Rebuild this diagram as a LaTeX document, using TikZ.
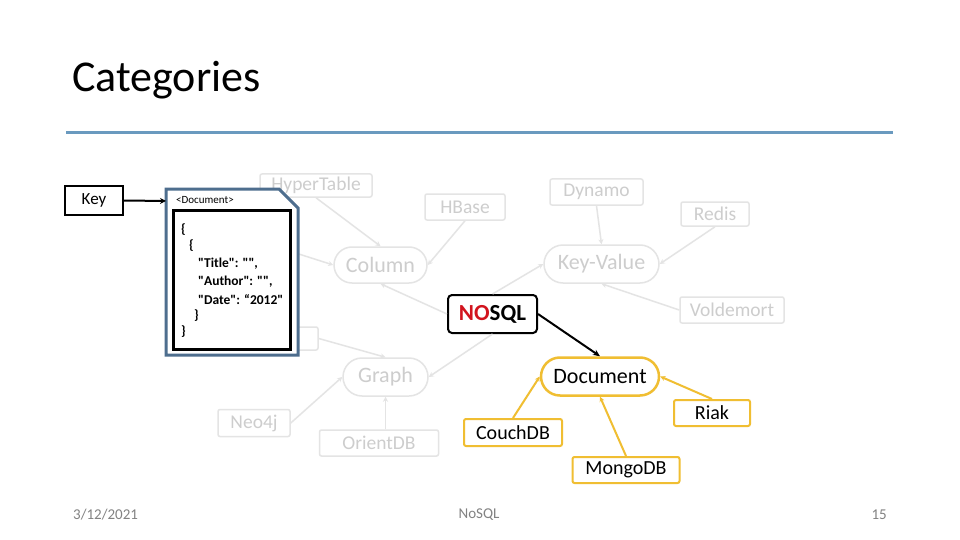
\documentclass[tikz,border=0pt]{standalone}
\usepackage{fontspec}
\setmainfont{Carlito}
\usetikzlibrary{arrows.meta,shapes.misc,calc}
\definecolor{ghost}{RGB}{228,228,228}
\definecolor{ghosttext}{RGB}{205,205,205}
\definecolor{gold}{RGB}{240,190,50}
\definecolor{rule}{RGB}{106,154,191}
\definecolor{slate}{RGB}{78,110,142}
\definecolor{nored}{RGB}{210,20,30}
\definecolor{foot}{RGB}{130,130,130}
\newcommand{\dq}{\textquotedbl}
\begin{document}
\begin{tikzpicture}[x=1pt,y=-1pt,
  gbox/.style={draw=ghost,line width=1.5pt,rounded corners=2pt,text=ghosttext,inner sep=0pt,font=\fontsize{19.5}{19.5}\selectfont},
  gpill/.style={draw=ghost,line width=1.5pt,rounded rectangle,text=ghosttext,inner sep=0pt,font=\fontsize{22}{22}\selectfont},
  ybox/.style={draw=gold,line width=2pt,rounded corners=2pt,text=black,inner sep=0pt,font=\fontsize{20}{20}\selectfont},
  ypill/.style={draw=gold,line width=2.5pt,rounded rectangle,text=black,inner sep=0pt,font=\fontsize{22}{22}\selectfont},
  garrow/.style={draw=ghost,line width=1.5pt,-{Stealth[length=5pt,width=5pt]}},
  yarrow/.style={draw=gold,line width=2pt,-{Stealth[length=5pt,width=5pt]}},
  barrow/.style={draw=black,line width=2pt,-{Stealth[length=7pt,width=6pt]}},
  json/.style={anchor=west,inner sep=0pt,font=\fontsize{13.5}{13.5}\selectfont\bfseries}
]
\useasboundingbox (0,0) rectangle (960,540);
\fill[white] (0,0) rectangle (960,540);

% title and rule
\node[anchor=west,inner sep=0pt,font=\fontsize{44}{44}\selectfont] (title) at (72,80) {Categories};
\coordinate (ruleL) at (66,133);
\coordinate (ruleR) at (893,133);
\draw[rule,line width=3pt] (ruleL) -- (ruleR);

% ghost nodes
\node[gbox,minimum width=112pt,minimum height=23pt] (ht) at (316,185.5) {HyperTable};
\node[gbox,minimum width=80pt,minimum height=26pt] (hb) at (465,207) {HBase};
\node[gbox,minimum width=93pt,minimum height=26pt] (dyn) at (596.5,192) {Dynamo};
\node[gbox,minimum width=68pt,minimum height=24pt] (redis) at (715,214) {Redis};
\node[gpill,minimum width=93pt,minimum height=36pt] (col) at (380.5,265) {Column};
\node[gpill,minimum width=115pt,minimum height=38pt] (kv) at (601.5,264) {Key-Value};
\node[gbox,minimum width=104pt,minimum height=26pt] (vold) at (732,310) {Voldemort};
\node[gbox,minimum width=68pt,minimum height=23pt] (hid) at (284,338.5) {};
\coordinate (hidc) at (280,248);
\node[gpill,minimum width=85pt,minimum height=38pt] (graph) at (385.5,377) {Graph};
\node[gbox,minimum width=72pt,minimum height=27pt] (neo) at (254,423) {Neo4j};
\node[gbox,minimum width=119pt,minimum height=26pt] (orient) at (379,443) {OrientDB};

% NOSQL
\node[draw=black,line width=2pt,rounded corners=4pt,minimum width=89pt,minimum height=38pt,inner sep=0pt,font=\fontsize{23}{23}\selectfont\bfseries] (nosql) at (492.5,314) {\textcolor{nored}{NO}SQL};

% document family
\node[ypill,minimum width=118pt,minimum height=38pt] (doc) at (600,376.5) {Document};
\node[ybox,minimum width=98pt,minimum height=27pt] (couch) at (513,432.5) {CouchDB};
\node[ybox,minimum width=76pt,minimum height=26pt] (riak) at (712,413) {Riak};
\node[ybox,minimum width=107pt,minimum height=26pt] (mongo) at (626,470) {MongoDB};

% ghost edges
\draw[garrow] (ht.south) -- (col.north);
\draw[garrow] (hb.south) -- (col.east);
\draw[garrow] (hidc) -- (col.west);
\draw[garrow] (dyn.south) -- (kv.north);
\draw[garrow] (redis.south) -- (kv.east);
\draw[garrow] (vold.west) -- (kv.south);
\draw[garrow] (nosql.north) -- (kv.west);
\draw[garrow] (nosql.west) -- (col.south);
\draw[garrow] (nosql.south) -- (graph.east);
\draw[garrow] (hid.east) -- (graph.north);
\draw[garrow] (neo.east) -- (graph.west);
\draw[garrow] (graph.south |- orient.north) -- (graph.south);

% yellow edges
\draw[yarrow] (couch.north) -- (doc.west);
\draw[yarrow] (mongo.north) -- (doc.south);
\draw[yarrow] (riak.north) -- (doc.east);
\draw[barrow] (nosql.east) -- (doc.north);

% key and document card
\node[draw=black,line width=2pt,minimum width=58pt,minimum height=29pt,inner sep=0pt,font=\fontsize{17}{17}\selectfont] (key) at (94,200.5) {Key};
\filldraw[fill=white,draw=slate,line width=3pt] (166,189) -- (279,189) -- (298,208) -- (298,355) -- (166,355) -- cycle;
\draw[black,line width=3.5pt] (173.5,210.5) rectangle (290.5,349.5);
\coordinate (docL) at (166,201);
\draw[draw=black,line width=2pt,-{Stealth[length=6pt,width=6pt]}] (key.east) -- (docL);
\node[anchor=west,inner sep=0pt,font=\fontsize{11}{11}\selectfont] (dtag) at (176,200) {<Document>};
\node[json] (j1) at (181,230) {\{};
\node[json] (j2) at (189,246) {\{};
\node[json] (j3) at (198,264) {\dq Title\dq: \dq\dq,};
\node[json] (j4) at (198,282) {\dq Author\dq: \dq\dq,};
\node[json] (j5) at (198,300) {\dq Date\dq: “2012\dq};
\node[json] (j6) at (194,316) {\}};
\node[json] (j7) at (181,332) {\}};

% footer
\node[anchor=west,inner sep=0pt,text=foot,font=\fontsize{15}{15}\selectfont] (date) at (73,515) {3/12/2021};
\node[inner sep=0pt,text=foot,font=\fontsize{15}{15}\selectfont] (ftitle) at (479,515) {NoSQL};
\node[anchor=east,inner sep=0pt,text=foot,font=\fontsize{15}{15}\selectfont] (page) at (887,515) {15};
\end{tikzpicture}
\end{document}
